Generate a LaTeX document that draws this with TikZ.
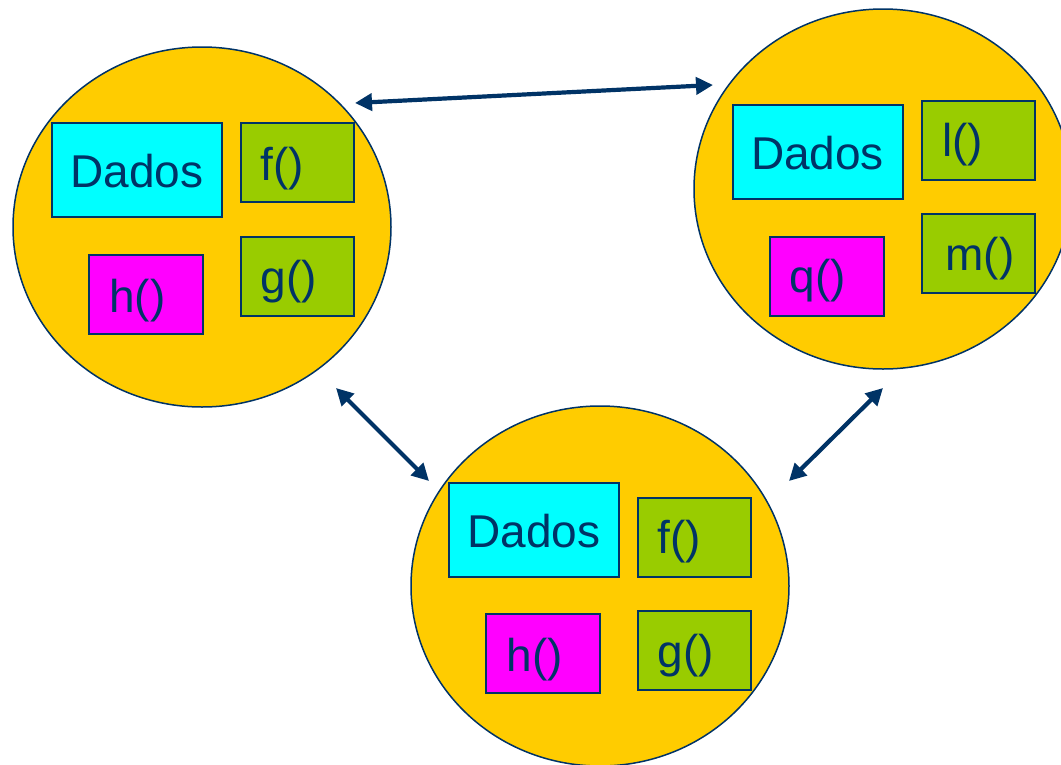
\documentclass[tikz,border=0pt]{standalone}
\usepackage{fontspec}
\setmainfont{Liberation Sans}
\usetikzlibrary{arrows.meta,shapes.geometric}
\definecolor{navy}{HTML}{003366}
\definecolor{gold}{HTML}{FFCC00}
\definecolor{aqua}{HTML}{00FFFF}
\definecolor{lime}{HTML}{99CC00}
\definecolor{pink}{HTML}{FF00FF}
\begin{document}
\begin{tikzpicture}[x=1pt,y=-1pt,
  blob/.style={ellipse,draw=navy,line width=1.5pt,fill=gold,inner sep=0pt,minimum width=378pt,minimum height=360pt},
  box/.style={rectangle,draw=navy,line width=2pt,inner sep=0pt},
  databox/.style={box,fill=aqua,minimum width=170pt,minimum height=94pt},
  funbox/.style={box,fill=lime,minimum width=113pt,minimum height=79pt},
  locbox/.style={box,fill=pink,minimum width=114pt,minimum height=79pt},
  lbl/.style={anchor=base,inner sep=0pt,text=navy,font=\fontsize{46}{52}\selectfont},
  biarrow/.style={draw=navy,line width=4.2pt,{Triangle[length=17pt,width=17pt]}-{Triangle[length=17pt,width=17pt]}}]
\useasboundingbox (0,0) rectangle (1061,764);
% circles
\node[blob] (c1) at (202,227) {};
\node[blob] (c2) at (883,189) {};
\node[blob] (c3) at (600,586) {};
% circle 1 boxes
\node[databox] (d1) at (137,170) {};
\node[funbox] (f1) at (297.5,162.5) {};
\node[funbox] (g1) at (297.5,276.5) {};
\node[locbox] (h1) at (146,294.5) {};
\node[lbl] (td1) at (137,187) {Dados};
\node[lbl] (tf1) at (282,180) {f()};
\node[lbl] (tg1) at (289,293) {g()};
\node[lbl] (th1) at (137.5,312) {h()};
% circle 2 boxes
\node[databox] (d2) at (817.5,151.5) {};
\node[funbox] (l2) at (978,140) {};
\node[funbox] (m2) at (978,253.5) {};
\node[locbox] (q2) at (826.5,276) {};
\node[lbl] (td2) at (817.5,169) {Dados};
\node[lbl] (tl2) at (962.5,156) {l()};
\node[lbl] (tm2) at (980,270) {m()};
\node[lbl] (tq2) at (818,292) {q()};
% circle 3 boxes
\node[databox] (d3) at (533.5,529.5) {};
\node[funbox] (f3) at (694.5,537) {};
\node[funbox] (g3) at (694.5,650) {};
\node[locbox] (h3) at (543,653.5) {};
\node[lbl] (td3) at (534,547) {Dados};
\node[lbl] (tf3) at (679,553) {f()};
\node[lbl] (tg3) at (686,667) {g()};
\node[lbl] (th3) at (535,671) {h()};
% arrows
\coordinate (a1) at (355,103);
\coordinate (a2) at (713,85);
\coordinate (b1) at (336,388);
\coordinate (b2) at (429,481);
\coordinate (e1) at (883,388);
\coordinate (e2) at (789,481);
\draw[biarrow] (a1) -- (a2);
\draw[biarrow] (b1) -- (b2);
\draw[biarrow] (e1) -- (e2);
\end{tikzpicture}
\end{document}
